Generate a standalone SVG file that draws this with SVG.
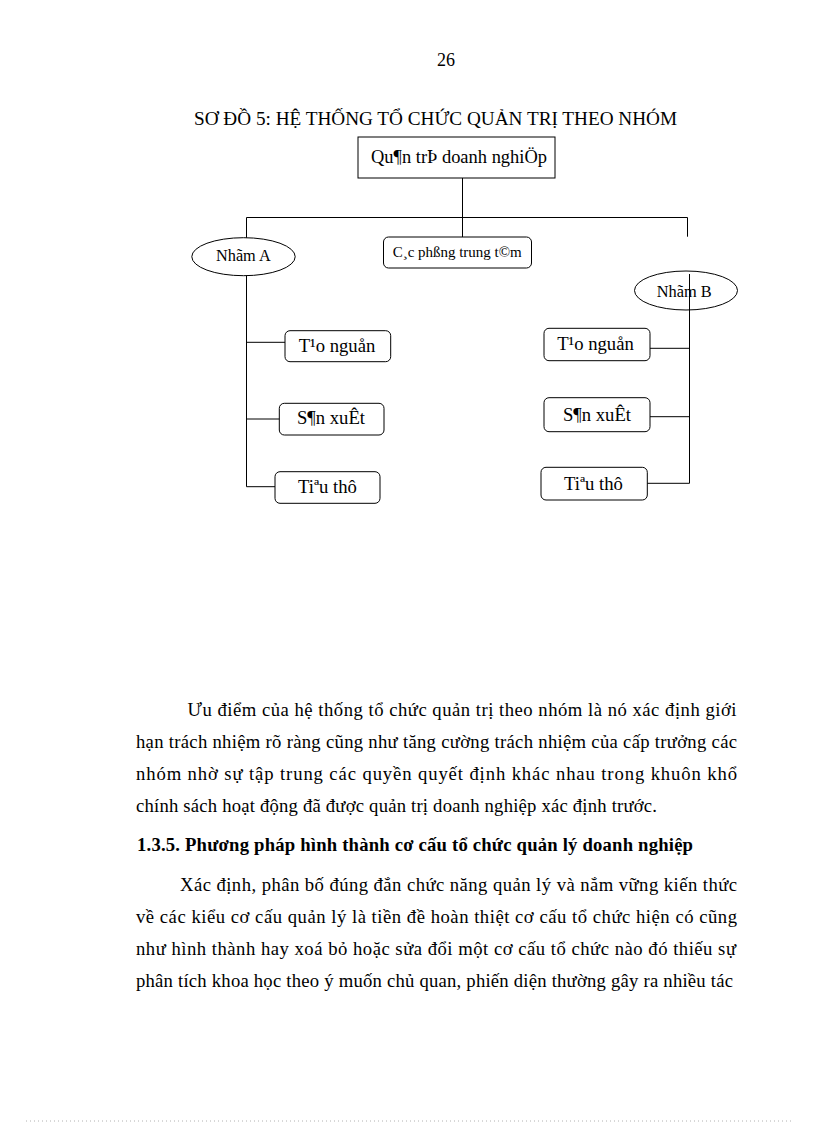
<svg xmlns="http://www.w3.org/2000/svg" width="816" height="1123" viewBox="0 0 816 1123">
<style>
  .t { font-family: "Liberation Serif", "Times New Roman", serif; fill: #000; }
  .body { font-size: 18.67px; }
  .bold { font-weight: bold; }
  .lbl { font-size: 18.67px; text-anchor: middle; }
  .box { fill: #fff; stroke: #000; stroke-width: 1; }
  .ell { fill: #fff; stroke: #000; stroke-width: 1; }
  .con { fill: none; stroke: #000; stroke-width: 1; }
</style>
<rect x="0" y="0" width="816" height="1123" fill="#fff"/>

<text class="t" x="446" y="66" font-size="18" text-anchor="middle">26</text>
<text class="t" x="194" y="125" font-size="19.5" textLength="483" lengthAdjust="spacingAndGlyphs">SƠ ĐỒ 5: HỆ THỐNG TỔ CHỨC QUẢN TRỊ THEO NHÓM</text>

<g id="node-quantri">
  <rect class="box" x="358" y="137" width="197" height="41"/>
  <text class="t" x="371" y="162.5" font-size="18" textLength="176" lengthAdjust="spacingAndGlyphs">Qu¶n trÞ doanh nghiÖp</text>
</g>
<g id="node-cacphong">
  <rect class="box" x="383.5" y="237" width="148" height="31" rx="5"/>
  <text class="t" x="392.7" y="257.3" font-size="15" textLength="129" lengthAdjust="spacingAndGlyphs">C¸c phßng trung t©m</text>
</g>
<g id="node-nhomA">
  <ellipse class="ell" cx="243.5" cy="256.7" rx="51.7" ry="19"/>
  <text class="t" x="216" y="260.5" font-size="16" textLength="54.7" lengthAdjust="spacingAndGlyphs">Nhãm A</text>
</g>
<g id="node-nhomB">
  <ellipse class="ell" cx="686" cy="290.5" rx="51.5" ry="19.5"/>
  <text class="t" x="656.7" y="296.7" font-size="16" textLength="55" lengthAdjust="spacingAndGlyphs">Nhãm B</text>
</g>
<g id="node-taonguonA">
  <rect class="box" x="285" y="330.7" width="105.7" height="31" rx="5"/>
  <text class="t lbl" x="337" y="351.7">T¹o nguån</text>
</g>
<g id="node-sanxuatA">
  <rect class="box" x="279.3" y="403.3" width="104.7" height="31.7" rx="5"/>
  <text class="t lbl" x="331" y="424.3">S¶n xuÊt</text>
</g>
<g id="node-tieuthuA">
  <rect class="box" x="275" y="471.7" width="105" height="31.6" rx="5"/>
  <text class="t lbl" x="327.5" y="493.3">Tiªu thô</text>
</g>
<g id="node-taonguonB">
  <rect class="box" x="544" y="328.3" width="106" height="32.4" rx="5"/>
  <text class="t lbl" x="595.5" y="350">T¹o nguån</text>
</g>
<g id="node-sanxuatB">
  <rect class="box" x="544" y="397.7" width="106" height="34" rx="5"/>
  <text class="t lbl" x="597" y="421">S¶n xuÊt</text>
</g>
<g id="node-tieuthuB">
  <rect class="box" x="541" y="467.3" width="106.3" height="32.7" rx="5"/>
  <text class="t lbl" x="593.5" y="490">Tiªu thô</text>
</g>

<g id="connectors">
  <path class="con" d="M462.5,178 V237"/>
  <path class="con" d="M246.5,217.5 H687.5"/>
  <path class="con" d="M246.5,217.5 V237.7"/>
  <path class="con" d="M687.5,217.5 V236.7"/>
  <path class="con" d="M246.5,275.7 V486.7"/>
  <path class="con" d="M246.5,342.3 H285"/>
  <path class="con" d="M246.5,419 H279.3"/>
  <path class="con" d="M246.5,486.7 H275"/>
  <path class="con" d="M689.5,274 V483.3"/>
  <path class="con" d="M650,348.3 H689.5"/>
  <path class="con" d="M650,416.7 H689.5"/>
  <path class="con" d="M647.3,483.3 H689.5"/>
</g>

<g id="body-text">
  <text class="t body" x="187.5" y="716" textLength="549" lengthAdjust="spacing">Ưu điểm của hệ thống tổ chức quản trị theo nhóm là nó xác định giới</text>
  <text class="t body" x="136" y="748" textLength="601" lengthAdjust="spacing">hạn trách nhiệm rõ ràng cũng như tăng cường trách nhiệm của cấp trưởng các</text>
  <text class="t body" x="136" y="780" textLength="601" lengthAdjust="spacing">nhóm nhờ sự tập trung các quyền quyết định khác nhau trong khuôn khổ</text>
  <text class="t body" x="136" y="812" textLength="521" lengthAdjust="spacing">chính sách hoạt động đã được quản trị doanh nghiệp xác định trước.</text>
  <text class="t body bold" x="137" y="851" textLength="556" lengthAdjust="spacing">1.3.5. Phương pháp hình thành cơ cấu tổ chức quản lý doanh nghiệp</text>
  <text class="t body" x="180" y="891" textLength="557" lengthAdjust="spacing">Xác định, phân bố đúng đắn chức năng quản lý và nắm vững kiến thức</text>
  <text class="t body" x="136" y="923" textLength="601" lengthAdjust="spacing">về các kiểu cơ cấu quản lý là tiền đề hoàn thiệt cơ cấu tổ chức hiện có cũng</text>
  <text class="t body" x="136" y="955" textLength="600" lengthAdjust="spacing">như hình thành hay xoá bỏ hoặc sửa đổi một cơ cấu tổ chức nào đó thiếu sự</text>
  <text class="t body" x="136" y="987" textLength="597" lengthAdjust="spacing">phân tích khoa học theo ý muốn chủ quan, phiến diện thường gây ra nhiều tác</text>
</g>

<line x1="26" y1="1121" x2="792" y2="1121" stroke="#b0b0b0" stroke-width="1" stroke-dasharray="1 3"/>
</svg>
